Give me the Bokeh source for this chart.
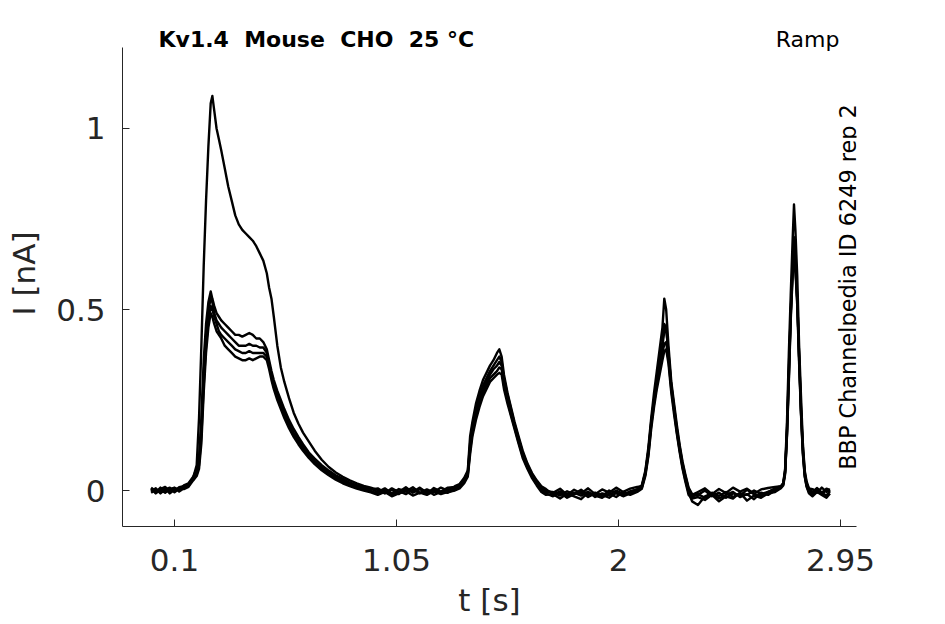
from bokeh.plotting import figure
from bokeh.models import Range1d, FixedTicker, Label
from bokeh.embed import file_html
from bokeh.resources import INLINE

# ---------------- data ----------------
t_s = [
    0.000, 0.020, 0.040, 0.060, 0.080, 0.100, 0.120, 0.140, 0.160, 0.180,
    0.195, 0.205, 0.215, 0.225, 0.235, 0.245, 0.255, 0.262, 0.270, 0.280,
    0.290, 0.300, 0.315, 0.330, 0.345, 0.360, 0.375, 0.390, 0.405, 0.420,
    0.435, 0.450, 0.465, 0.480, 0.495, 0.505, 0.515, 0.525, 0.540, 0.555,
    0.570, 0.590, 0.610, 0.630, 0.650, 0.675, 0.700, 0.730, 0.760, 0.790,
    0.820, 0.850, 0.880, 0.910, 0.940,
    0.970, 1.000, 1.030, 1.060, 1.090, 1.120, 1.150, 1.180, 1.210, 1.240, 1.270,
    1.300, 1.320, 1.340, 1.355, 1.365, 1.375, 1.390, 1.405, 1.420, 1.435,
    1.450, 1.465, 1.480, 1.490, 1.500, 1.510, 1.525, 1.540, 1.555, 1.570,
    1.590, 1.610, 1.630, 1.650, 1.670, 1.690,
    1.720, 1.750, 1.780, 1.810, 1.840, 1.870, 1.900, 1.930, 1.960, 1.990, 2.020, 2.050, 2.080,
    2.100, 2.115, 2.128, 2.140, 2.152, 2.164, 2.176, 2.188, 2.196, 2.204,
    2.214, 2.226, 2.238, 2.250, 2.262, 2.274, 2.286, 2.300, 2.315,
    2.340, 2.370, 2.400, 2.430, 2.460, 2.490, 2.520, 2.550, 2.580, 2.610, 2.640, 2.670,
    2.695, 2.705, 2.713, 2.721, 2.729, 2.737, 2.745, 2.751, 2.757, 2.765,
    2.773, 2.781, 2.789, 2.797, 2.805, 2.815,
    2.830, 2.850, 2.870, 2.890, 2.905,
]

sweep_1 = [
    0.004, -0.006, 0.008, -0.003, 0.006, -0.002, 0.009, 0.012, 0.018, 0.035,
    0.07, 0.20, 0.40, 0.62, 0.80, 0.95, 1.07, 1.09, 1.05, 1.00,
    0.97, 0.94, 0.89, 0.84, 0.80, 0.76, 0.735, 0.72, 0.71, 0.70,
    0.69, 0.675, 0.655, 0.635, 0.60, 0.56, 0.53, 0.48, 0.40, 0.34,
    0.30, 0.255, 0.215, 0.185, 0.16, 0.135, 0.11, 0.085, 0.065, 0.05,
    0.038, 0.028, 0.02, 0.013, 0.008,
    0.002, -0.008, 0.006, -0.004, 0.009, -0.006, 0.004, -0.010, 0.007, -0.003, 0.008,
    0.010, 0.016, 0.032, 0.050, 0.13, 0.18, 0.225, 0.26, 0.29, 0.31,
    0.33, 0.345, 0.36, 0.37, 0.355, 0.31, 0.265, 0.225, 0.185, 0.15,
    0.105, 0.072, 0.045, 0.025, 0.010, 0.000,
    -0.006, 0.005, -0.012, 0.002, -0.008, 0.006, -0.010, 0.003, -0.006, 0.008, -0.004, 0.005, 0.010,
    0.012, 0.05, 0.11, 0.19, 0.25, 0.31, 0.36, 0.41, 0.46, 0.45,
    0.38, 0.29, 0.23, 0.17, 0.12, 0.075, 0.04, 0.005, -0.012,
    -0.004, 0.006, -0.010, 0.004, -0.007, 0.008, -0.003, 0.005, -0.009, 0.003, 0.007, 0.010,
    0.012, 0.02, 0.055, 0.17, 0.34, 0.49, 0.63, 0.70, 0.65, 0.53,
    0.37, 0.23, 0.12, 0.05, 0.02, 0.004,
    -0.004, 0.007, -0.006, 0.005, 0.002,
]

sweep_2 = [
    0.008, -0.002, 0.004, 0.010, -0.004, 0.007, 0.002, 0.014, 0.020, 0.038,
    0.06, 0.09, 0.20, 0.36, 0.46, 0.52, 0.55, 0.53, 0.51, 0.49,
    0.48, 0.47, 0.46, 0.45, 0.44, 0.43, 0.43, 0.425, 0.43, 0.435,
    0.43, 0.42, 0.42, 0.41, 0.39, 0.36, 0.33, 0.305, 0.275, 0.25,
    0.225, 0.195, 0.17, 0.148, 0.128, 0.105, 0.088, 0.07, 0.055, 0.042,
    0.032, 0.022, 0.015, 0.010, 0.006,
    -0.004, 0.006, -0.008, 0.004, -0.002, 0.009, -0.007, 0.003, -0.005, 0.008, 0.000,
    0.012, 0.018, 0.035, 0.055, 0.15, 0.19, 0.24, 0.275, 0.305, 0.325,
    0.345, 0.36, 0.38, 0.39, 0.37, 0.32, 0.27, 0.23, 0.19, 0.155,
    0.11, 0.075, 0.048, 0.028, 0.012, 0.004,
    -0.012, -0.002, -0.016, -0.006, -0.014, -0.003, -0.018, -0.008, -0.013, 0.000, -0.010, -0.004, 0.004,
    0.015, 0.055, 0.12, 0.20, 0.27, 0.33, 0.39, 0.45, 0.53, 0.50,
    0.40, 0.30, 0.24, 0.18, 0.125, 0.08, 0.045, 0.008, -0.010,
    -0.010, -0.020, -0.006, -0.015, -0.004, -0.018, -0.008, -0.012, 0.000, -0.010, -0.004, 0.006,
    0.012, 0.02, 0.06, 0.19, 0.38, 0.54, 0.69, 0.79, 0.72, 0.59,
    0.40, 0.26, 0.13, 0.055, 0.025, 0.006,
    0.004, -0.006, 0.008, -0.004, 0.003,
]

sweep_3 = [
    -0.002, 0.006, -0.008, 0.003, 0.008, -0.005, 0.005, 0.010, 0.016, 0.030,
    0.05, 0.08, 0.17, 0.32, 0.43, 0.50, 0.53, 0.52, 0.49, 0.47,
    0.46, 0.45, 0.44, 0.43, 0.42, 0.41, 0.40, 0.40, 0.40, 0.405,
    0.40, 0.40, 0.395, 0.395, 0.38, 0.35, 0.32, 0.295, 0.265, 0.24,
    0.215, 0.185, 0.16, 0.14, 0.12, 0.10, 0.082, 0.064, 0.05, 0.038,
    0.028, 0.018, 0.011, 0.006, 0.002,
    0.006, -0.006, 0.002, -0.010, 0.005, -0.004, 0.008, -0.006, 0.003, -0.008, 0.004,
    0.006, 0.012, 0.028, 0.045, 0.12, 0.17, 0.215, 0.25, 0.28, 0.30,
    0.32, 0.335, 0.345, 0.355, 0.345, 0.30, 0.255, 0.22, 0.18, 0.145,
    0.10, 0.068, 0.042, 0.022, 0.006, -0.004,
    -0.004, -0.014, -0.002, -0.010, 0.002, -0.012, -0.006, -0.016, 0.000, -0.008, -0.014, -0.002, 0.002,
    0.010, 0.048, 0.11, 0.185, 0.25, 0.30, 0.35, 0.40, 0.44, 0.45,
    0.375, 0.29, 0.225, 0.165, 0.115, 0.07, 0.035, 0.000, -0.016,
    -0.012, 0.000, -0.016, -0.006, -0.020, -0.008, -0.014, 0.002, -0.010, -0.016, -0.004, 0.004,
    0.010, 0.018, 0.05, 0.16, 0.32, 0.49, 0.61, 0.66, 0.62, 0.53,
    0.37, 0.22, 0.11, 0.045, 0.015, 0.000,
    -0.008, 0.004, -0.010, 0.002, -0.004,
]

sweep_4 = [
    0.006, -0.008, 0.002, -0.006, 0.004, 0.008, -0.003, 0.006, 0.012, 0.034,
    0.045, 0.07, 0.15, 0.29, 0.40, 0.47, 0.51, 0.50, 0.48, 0.46,
    0.44, 0.43, 0.42, 0.41, 0.40, 0.39, 0.385, 0.38, 0.38, 0.385,
    0.38, 0.38, 0.38, 0.38, 0.37, 0.345, 0.315, 0.29, 0.26, 0.235,
    0.21, 0.18, 0.155, 0.135, 0.115, 0.095, 0.078, 0.06, 0.046, 0.034,
    0.024, 0.016, 0.008, 0.003, -0.002,
    -0.008, 0.002, -0.012, -0.002, -0.010, 0.003, -0.008, 0.001, -0.012, -0.004, -0.006,
    0.004, 0.010, 0.025, 0.042, 0.11, 0.16, 0.205, 0.24, 0.27, 0.29,
    0.31, 0.32, 0.33, 0.34, 0.335, 0.29, 0.25, 0.21, 0.175, 0.14,
    0.095, 0.064, 0.038, 0.018, 0.002, -0.008,
    -0.016, -0.006, -0.020, -0.010, -0.004, -0.018, -0.008, -0.012, -0.020, -0.006, -0.016, -0.008, 0.000,
    0.008, 0.045, 0.10, 0.18, 0.24, 0.29, 0.34, 0.38, 0.405, 0.41,
    0.36, 0.28, 0.22, 0.16, 0.11, 0.065, 0.03, -0.006, -0.030,
    -0.040, -0.016, -0.008, -0.022, -0.012, -0.004, -0.018, -0.010, -0.024, -0.006, -0.012, 0.000,
    0.008, 0.016, 0.05, 0.155, 0.31, 0.48, 0.60, 0.65, 0.62, 0.52,
    0.36, 0.215, 0.105, 0.04, 0.012, -0.004,
    -0.012, 0.002, -0.006, -0.014, -0.002,
]

sweep_5 = [
    -0.006, 0.003, -0.004, 0.006, -0.008, 0.002, 0.006, 0.004, 0.010, 0.028,
    0.04, 0.06, 0.13, 0.27, 0.38, 0.45, 0.49, 0.48, 0.46, 0.44,
    0.43, 0.42, 0.40, 0.39, 0.38, 0.37, 0.365, 0.36, 0.36, 0.365,
    0.36, 0.365, 0.37, 0.37, 0.36, 0.335, 0.305, 0.28, 0.25, 0.225,
    0.20, 0.172, 0.148, 0.128, 0.11, 0.09, 0.073, 0.056, 0.042, 0.03,
    0.02, 0.012, 0.005, 0.000, -0.005,
    -0.012, -0.004, -0.016, -0.008, -0.002, -0.014, -0.006, -0.012, -0.002, -0.010, -0.004,
    0.000, 0.006, 0.020, 0.038, 0.10, 0.15, 0.195, 0.23, 0.26, 0.28,
    0.30, 0.31, 0.32, 0.325, 0.32, 0.28, 0.24, 0.205, 0.17, 0.135,
    0.09, 0.06, 0.034, 0.014, -0.004, -0.012,
    -0.010, -0.022, -0.008, -0.016, -0.024, -0.006, -0.014, -0.020, -0.008, -0.018, -0.004, -0.012, -0.004,
    0.005, 0.04, 0.095, 0.17, 0.23, 0.28, 0.32, 0.36, 0.385, 0.39,
    0.35, 0.27, 0.21, 0.155, 0.105, 0.06, 0.025, -0.012, -0.022,
    -0.018, -0.026, -0.012, -0.030, -0.016, -0.022, -0.006, -0.028, -0.014, -0.020, -0.008, -0.004,
    0.006, 0.014, 0.045, 0.15, 0.30, 0.47, 0.59, 0.64, 0.61, 0.51,
    0.35, 0.21, 0.10, 0.038, 0.010, -0.008,
    -0.016, -0.004, -0.012, -0.020, -0.008,
]

sweeps = [sweep_1, sweep_2, sweep_3, sweep_4, sweep_5]

x_ticks = [0.1, 1.05, 2, 2.95]
x_tick_labels = ["0.1", "1.05", "2", "2.95"]
y_ticks = [0, 0.5, 1]
y_tick_labels = ["0", "0.5", "1"]

# a plain space followed by a no-break space keeps the wide gaps in SVG text
GAP = " \u00a0"
title_words = ["Kv1.4", "Mouse", "CHO", "25 °C"]
title_text = GAP.join(title_words)
protocol_text = "Ramp"
source_text = "BBP Channelpedia ID 6249 rep 2"

# ---------------- figure ----------------
AX = "#262626"
FONT = "DejaVu Sans"
Y_AXIS_TOP = 1.2238

p = figure(width=929, height=620, output_backend="svg", toolbar_location=None,
           x_range=Range1d(-0.1225, 3.0185), y_range=Range1d(-0.0994, 1.2983),
           min_border_left=122, min_border_right=73, min_border_top=20,
           min_border_bottom=94)
p.outline_line_color = None
p.background_fill_color = "white"
p.border_fill_color = "white"
p.xgrid.visible = False
p.ygrid.visible = False

for s in sweeps:
    p.line(t_s, s, line_color="black", line_width=2.4, line_join="round")

p.xaxis.ticker = FixedTicker(ticks=x_ticks)
p.xaxis.major_label_overrides = {tk: lb for tk, lb in zip(x_ticks, x_tick_labels)}
p.yaxis.ticker = FixedTicker(ticks=y_ticks)
p.yaxis.major_label_overrides = {tk: lb for tk, lb in zip(y_ticks, y_tick_labels)}
p.yaxis.bounds = (-0.0994, Y_AXIS_TOP)

for ax in (p.xaxis[0], p.yaxis[0]):
    ax.axis_line_color = AX
    ax.axis_line_width = 1
    ax.major_tick_line_color = AX
    ax.major_tick_in = 7
    ax.major_tick_out = 0
    ax.minor_tick_line_color = None
    ax.major_label_text_font = FONT
    ax.major_label_text_font_size = "31px"
    ax.major_label_text_color = AX
    ax.axis_label_text_font = FONT
    ax.axis_label_text_font_size = "31px"
    ax.axis_label_text_font_style = "normal"
    ax.axis_label_text_color = AX

p.xaxis.axis_label = "t [s]"
p.yaxis.axis_label = "I [nA]"
p.xaxis.major_label_standoff = 22
p.yaxis.major_label_standoff = 17
p.xaxis.axis_label_standoff = 8
p.yaxis.axis_label_standoff = 11

p.add_layout(Label(x=0.0315, y=1.2459, text=title_text, text_font=FONT,
                   text_font_style="bold", text_font_size="22px",
                   text_align="left", text_baseline="middle", text_color="black"))
p.add_layout(Label(x=2.9457, y=1.2459, text=protocol_text, text_font=FONT,
                   text_font_size="22px", text_align="right",
                   text_baseline="middle", text_color="black"))
p.add_layout(Label(x=2.9842, y=0.5622, text=source_text, text_font=FONT,
                   text_font_size="22.4px", text_align="center",
                   text_baseline="middle", angle=1.5707963, text_color="black"))

open("out.html", "w").write(file_html(p, INLINE))
